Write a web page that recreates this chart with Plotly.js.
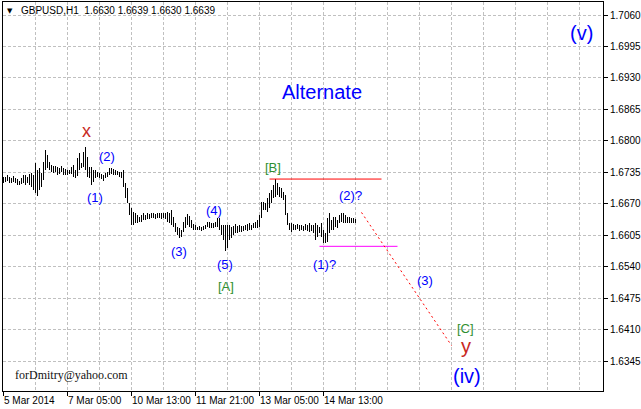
<!DOCTYPE html>
<html><head><meta charset="utf-8">
<script src="https://cdn.plot.ly/plotly-3.0.1.min.js"></script>
<style>html,body{margin:0;padding:0;background:#fff;} #chart{width:641px;height:409px;}
.scatterlayer .trace:first-child path.js-line{shape-rendering:crispEdges;}</style>
</head><body><div id="chart"></div>
<script>
// Hourly bar highs / lows (GBPUSD, H1), one per bar from the left edge
const barHigh = [
1.6725,1.6725,1.6729,1.6725,1.6723,1.6727,1.6723,1.6721,1.6717,1.6723,
1.6729,1.6729,1.6725,1.6731,1.6733,1.6729,1.6754,1.6740,1.6744,1.6733,
1.6756,1.6781,1.6771,1.6756,1.6750,1.6748,1.6748,1.6746,1.6744,1.6748,
1.6744,1.6742,1.6740,1.6740,1.6746,1.6750,1.6740,1.6764,1.6775,1.6754,
1.6777,1.6787,1.6767,1.6746,1.6746,1.6740,1.6740,1.6736,1.6733,1.6731,
1.6729,1.6733,1.6736,1.6744,1.6744,1.6742,1.6740,1.6738,1.6736,1.6736,
1.6740,1.6713,1.6703,1.6672,1.6661,1.6653,1.6651,1.6647,1.6643,1.6647,
1.6651,1.6647,1.6651,1.6649,1.6651,1.6651,1.6649,1.6651,1.6651,1.6651,
1.6651,1.6651,1.6653,1.6651,1.6657,1.6643,1.6630,1.6622,1.6620,1.6616,
1.6632,1.6643,1.6649,1.6645,1.6636,1.6628,1.6626,1.6622,1.6624,1.6622,
1.6624,1.6626,1.6632,1.6632,1.6630,1.6630,1.6632,1.6640,1.6640,1.6626,
1.6626,1.6626,1.6626,1.6626,1.6622,1.6624,1.6628,1.6624,1.6626,1.6624,
1.6624,1.6626,1.6628,1.6630,1.6626,1.6630,1.6632,1.6636,1.6647,1.6674,
1.6674,1.6672,1.6682,1.6692,1.6698,1.6709,1.6721,1.6713,1.6705,1.6703,
1.6694,1.6688,1.6651,1.6630,1.6630,1.6628,1.6626,1.6628,1.6626,1.6626,
1.6624,1.6628,1.6626,1.6630,1.6626,1.6626,1.6630,1.6626,1.6622,1.6630,
1.6616,1.6610,1.6640,1.6651,1.6636,1.6643,1.6643,1.6636,1.6647,1.6651,
1.6651,1.6647,1.6643,1.6643,1.6640,1.6640,1.6639
];
const barLow = [
1.6713,1.6715,1.6717,1.6713,1.6713,1.6715,1.6713,1.6709,1.6709,1.6711,
1.6713,1.6709,1.6713,1.6709,1.6705,1.6698,1.6692,1.6686,1.6698,1.6705,
1.6719,1.6740,1.6744,1.6740,1.6736,1.6733,1.6736,1.6729,1.6731,1.6736,
1.6729,1.6729,1.6729,1.6731,1.6731,1.6725,1.6723,1.6727,1.6740,1.6744,
1.6746,1.6740,1.6725,1.6723,1.6709,1.6715,1.6723,1.6725,1.6723,1.6721,
1.6717,1.6723,1.6725,1.6729,1.6731,1.6729,1.6729,1.6729,1.6725,1.6723,
1.6705,1.6682,1.6672,1.6647,1.6626,1.6626,1.6630,1.6630,1.6632,1.6632,
1.6636,1.6636,1.6638,1.6638,1.6640,1.6640,1.6638,1.6640,1.6640,1.6638,
1.6640,1.6638,1.6632,1.6630,1.6626,1.6622,1.6612,1.6605,1.6599,1.6601,
1.6612,1.6620,1.6626,1.6622,1.6620,1.6616,1.6616,1.6616,1.6616,1.6614,
1.6616,1.6618,1.6622,1.6620,1.6620,1.6620,1.6622,1.6622,1.6616,1.6605,
1.6595,1.6572,1.6578,1.6595,1.6599,1.6605,1.6610,1.6610,1.6612,1.6612,
1.6614,1.6616,1.6614,1.6616,1.6616,1.6620,1.6620,1.6620,1.6622,1.6640,
1.6657,1.6657,1.6653,1.6661,1.6672,1.6682,1.6684,1.6688,1.6684,1.6682,
1.6678,1.6647,1.6626,1.6616,1.6612,1.6616,1.6616,1.6618,1.6614,1.6616,
1.6614,1.6616,1.6614,1.6612,1.6614,1.6610,1.6595,1.6601,1.6610,1.6601,
1.6589,1.6589,1.6591,1.6610,1.6616,1.6616,1.6622,1.6620,1.6630,1.6632,
1.6630,1.6630,1.6630,1.6630,1.6630,1.6630,1.6630
];
const tickBars = [0, 32, 64, 96, 128, 160];
const tickLabels = ["5 Mar 2014", "7 Mar 05:00", "10 Mar 13:00", "11 Mar 21:00", "13 Mar 05:00", "14 Mar 13:00"];
const gridBars = [16, 48, 80, 112, 144, 176, 192, 208, 224, 240, 256, 272, 288];
const priceTicks = [1.6345, 1.6410, 1.6475, 1.6540, 1.6605, 1.6670, 1.6735, 1.6800, 1.6865, 1.6930, 1.6995, 1.7060];
const bLineBars = [133, 189];
const bLinePrice = [1.6721, 1.6721];
const supportBars = [158, 197];
const supportPrice = [1.6582, 1.6582];
const projBars = [179, 224];
const projPrice = [1.6652, 1.6377];
const headerText = "GBPUSD,H1  1.6630 1.6639 1.6630 1.6639";
const waveText  = ["x", "(2)", "(1)", "(3)", "(4)", "(5)", "[A]", "[B]", "(1)?", "(2)?", "(3)", "[C]", "y", "(iv)", "(v)", "Alternate"];
const waveBar   = [41.25, 51.5, 45.5, 87.75, 105.25, 110.75, 111.25, 134.75, 160.25, 173.25, 210.75, 230.75, 231.25, 231.75, 288.75, 159.25];
const wavePrice = [1.6820, 1.6767, 1.6682, 1.6572, 1.6657, 1.6545, 1.6498, 1.6744, 1.6545, 1.6688, 1.6512, 1.6413, 1.6376, 1.6314, 1.7023, 1.6901];

const BLUE = "#0000ff", GREEN = "#2f8f2f", RED = "#c8281e";
const waveStyle = {
  "x": [RED, 18], "y": [RED, 20], "[A]": [GREEN, 13], "[B]": [GREEN, 13], "[C]": [GREEN, 13],
  "(iv)": [BLUE, 20], "(v)": [BLUE, 20], "Alternate": [BLUE, 20]
};

const segX = [], segY = [];
barHigh.forEach((h, i) => { segX.push(i, i, null); segY.push(barLow[i], h, null); });

const traces = [
  {type: "scatter", mode: "lines", x: segX, y: segY, line: {color: "#000", width: 1}, hoverinfo: "skip"},
  {type: "scatter", mode: "lines", x: bLineBars, y: bLinePrice, line: {color: "#ff0000", width: 1}},
  {type: "scatter", mode: "lines", x: supportBars, y: supportPrice, line: {color: "#ff00ff", width: 1}},
  {type: "scatter", mode: "lines", x: projBars, y: projPrice, line: {color: "#ff0000", width: 1, dash: "2px,3px"}}
];

const annotations = waveText.map((t, k) => {
  const st = waveStyle[t] || [BLUE, 13];
  return {x: waveBar[k], y: wavePrice[k], xref: "x", yref: "y", text: t, showarrow: false,
    xanchor: "center", yanchor: "middle", font: {family: "Liberation Sans, Arial", size: st[1], color: st[0]}};
});
annotations.push({xref: "paper", yref: "paper", x: 0.012, y: 0.978, text: "▼", showarrow: false,
  xanchor: "center", yanchor: "middle", font: {family: "DejaVu Sans", size: 7, color: "#000"}});
annotations.push({xref: "paper", yref: "paper", x: 0.027, y: 0.978, text: headerText, showarrow: false,
  xanchor: "left", yanchor: "middle", font: {family: "Liberation Sans, Arial", size: 10, color: "#000"}});
annotations.push({xref: "paper", yref: "paper", x: 0.017, y: 0.04, text: "forDmitry@yahoo.com", showarrow: false,
  xanchor: "left", yanchor: "middle", font: {family: "Liberation Serif, Times New Roman", size: 12, color: "#111"}});

const layout = {
  width: 641, height: 409,
  margin: {l: 3, r: 38, t: 2, b: 18, pad: 0},
  paper_bgcolor: "#fff", plot_bgcolor: "#fff",
  showlegend: false,
  xaxis: {
    range: [-0.25, 299.75], fixedrange: true, zeroline: false,
    tickmode: "array", tickvals: tickBars.map(b => b - 0.25), ticktext: tickLabels,
    ticks: "outside", ticklen: 4, tickcolor: "#000", tickangle: 0,
    ticklabelposition: "outside right",
    tickfont: {family: "Liberation Sans, Arial", size: 10, color: "#000"},
    showgrid: true, gridcolor: "#c0c0c0", griddash: "3px,2px", gridwidth: 1,
    minor: {tickmode: "array", tickvals: gridBars.map(b => b - 0.25), showgrid: true, gridcolor: "#c0c0c0", griddash: "3px,2px", ticks: ""},
    showline: true, linecolor: "#000", linewidth: 1, mirror: true
  },
  yaxis: {
    side: "right", range: [1.62830, 1.70869], fixedrange: true, zeroline: false,
    tickmode: "array", tickvals: priceTicks, tickformat: ".4f",
    ticks: "outside", ticklen: 4, tickcolor: "#000",
    tickfont: {family: "Liberation Sans, Arial", size: 10, color: "#000"},
    showgrid: true, gridcolor: "#c0c0c0", griddash: "3px,2px", gridwidth: 1,
    showline: true, linecolor: "#000", linewidth: 1, mirror: true
  },
  annotations: annotations
};

Plotly.newPlot("chart", traces, layout, {displayModeBar: false, staticPlot: true});
</script></body></html>
